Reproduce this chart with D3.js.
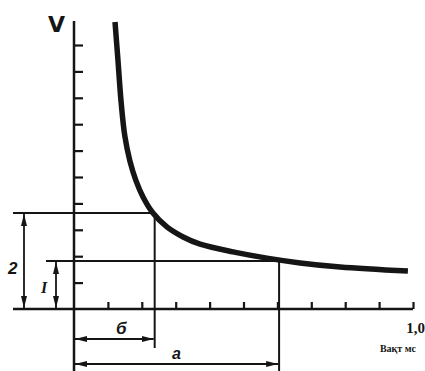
<!DOCTYPE html>
<html>
<head>
<meta charset="utf-8">
<script src="https://d3js.org/d3.v7.min.js"></script>
<style>
  body { margin: 0; background: #fff; }
  svg { display: block; }
</style>
</head>
<body>
<script>
  // values
  var timeTicks = [0.1, 0.2, 0.3, 0.4, 0.5, 0.6, 0.7, 0.8, 0.9, 1.0]
  var vTicks = [0.55, 1.1, 1.65, 2.2, 2.75, 3.3, 3.85, 4.4, 4.95, 5.5]
  var curveT = [0.121, 0.130, 0.139, 0.150, 0.165, 0.183, 0.204, 0.233, 0.274, 0.322, 0.372, 0.469, 0.569, 0.667, 0.785, 0.985]
  var curveV = [5.98, 5.15, 4.31, 3.60, 3.08, 2.67, 2.33, 2.0, 1.71, 1.50, 1.35, 1.19, 1.06, 0.96, 0.875, 0.79]
  var rheobase = 1       // "1"
  var doubled = 2        // "2"
  var chronaxie = 0.238  // "б"
  var usefulTime = 0.605 // "a"

  var W = 425, H = 371
  var x = d3.scaleLinear().domain([0, 1]).range([74, 413])
  var y = d3.scaleLinear().domain([0, 6]).range([309, 21])
  var ink = "#151515"

  var svg = d3.select("body").append("svg").attr("width", W).attr("height", H)
  svg.append("rect").attr("width", W).attr("height", H).attr("fill", "#fff")

  var defs = svg.append("defs")
  defs.append("marker").attr("id", "arr")
    .attr("viewBox", "0 0 12 6").attr("refX", 12).attr("refY", 3)
    .attr("markerWidth", 12).attr("markerHeight", 6)
    .attr("markerUnits", "userSpaceOnUse").attr("orient", "auto-start-reverse")
    .append("path").attr("d", "M0,0 L12,3 L0,6 Z").attr("fill", ink)

  // axes lines (extend past the plot like in the drawing)
  svg.append("line").attr("x1", x(0)).attr("x2", x(0)).attr("y1", y(6)).attr("y2", H)
    .attr("stroke", ink).attr("stroke-width", 2.5)
  svg.append("line").attr("x1", 13).attr("x2", x(1)).attr("y1", y(0)).attr("y2", y(0))
    .attr("stroke", ink).attr("stroke-width", 2.5)

  var yAxis = svg.append("g").attr("transform", `translate(${x(0)},0)`)
    .call(d3.axisRight(y).tickValues(vTicks).tickSize(9).tickFormat(""))
  var xAxis = svg.append("g").attr("transform", `translate(0,${y(0)})`)
    .call(d3.axisTop(x).tickValues(timeTicks).tickSize(7).tickFormat(""))
  ;[yAxis, xAxis].forEach(g => {
    g.select(".domain").remove()
    g.selectAll(".tick line").attr("stroke", ink).attr("stroke-width", 2.2)
  })

  // guide lines
  var guide = (x1, y1, x2, y2) => svg.append("line")
    .attr("x1", x1).attr("y1", y1).attr("x2", x2).attr("y2", y2)
    .attr("stroke", ink).attr("stroke-width", 2)
  guide(13, y(doubled), x(chronaxie), y(doubled))
  guide(46, y(rheobase), x(usefulTime), y(rheobase))
  guide(x(chronaxie), y(doubled), x(chronaxie), 348)
  guide(x(usefulTime), y(rheobase), x(usefulTime), H)

  // dimension arrows
  var dim = (x1, y1, x2, y2) => guide(x1, y1, x2, y2)
    .attr("stroke-width", 1.8)
    .attr("marker-start", "url(#arr)").attr("marker-end", "url(#arr)")
  dim(24, y(doubled) + 1, 24, y(0) - 1)
  dim(56, y(rheobase) + 1, 56, y(0) - 1)
  dim(x(0) + 1, 339, x(chronaxie) - 1, 339)
  dim(x(0) + 1, 364, x(usefulTime) - 1, 364)

  // the curve
  var pts = curveT.map((t, i) => [t, curveV[i]])
  svg.append("path").datum(pts)
    .attr("d", d3.line().x(d => x(d[0])).y(d => y(d[1])).curve(d3.curveCatmullRom.alpha(0.5)))
    .attr("fill", "none").attr("stroke", ink).attr("stroke-width", 5.5)
    .attr("stroke-linecap", "butt")

  // labels
  var label = (tx, ty, s, size, opts) => {
    var t = svg.append("text").attr("x", tx).attr("y", ty).text(s)
      .attr("fill", ink).attr("font-size", size)
      .attr("font-family", opts.family || "'Liberation Serif', serif")
      .attr("font-weight", opts.weight || "bold")
      .attr("font-style", opts.style || "normal")
      .attr("text-anchor", opts.anchor || "start")
    return t
  }
  label(48, 32, "V", 22, { family: "'DejaVu Sans', sans-serif" })
  label(8, 274, "2", 17, { family: "'Liberation Sans', sans-serif", style: "italic" })
  label(41, 293, "I", 16, { family: "'Liberation Serif', serif", style: "italic" })
  label(116, 334, "б", 17, { family: "'Liberation Sans', sans-serif", style: "italic" })
  label(172, 359, "a", 16, { family: "'Liberation Sans', sans-serif", style: "italic" })
  label(425, 333, "1,0", 15, { anchor: "end" })
  label(416, 352, "Вақт мс", 10, { anchor: "end" })
</script>
</body>
</html>
